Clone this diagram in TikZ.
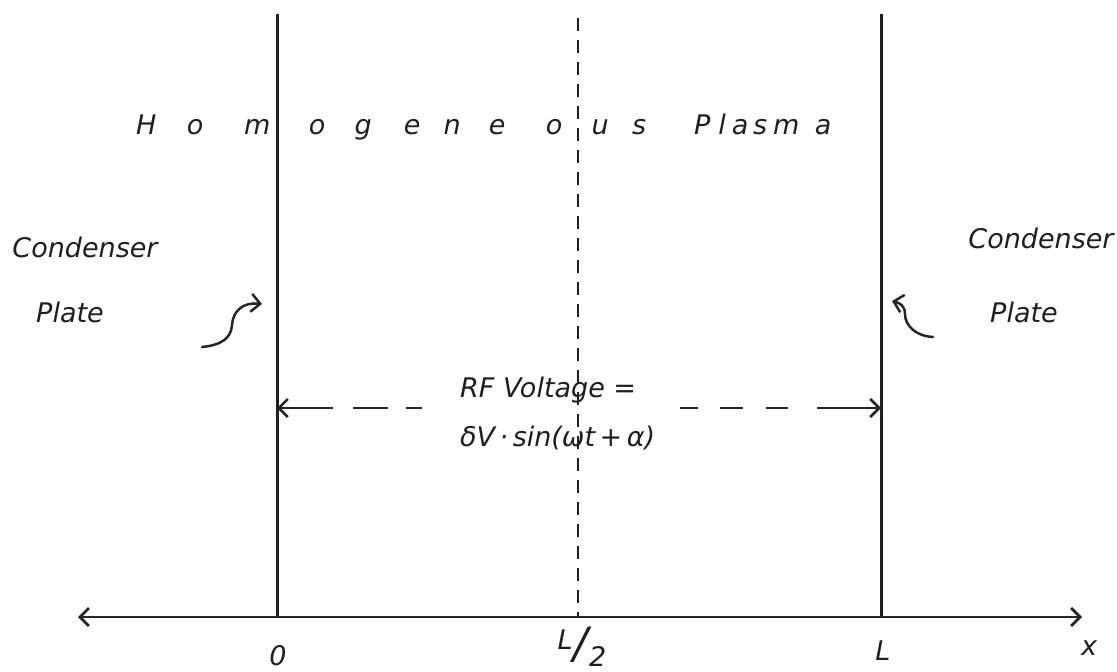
\documentclass[tikz,border=0pt]{standalone}
\usepackage{fontspec}
\setmainfont{DejaVu Sans}
\usetikzlibrary{arrows.meta}
\newcommand\ltr[1]{\makebox[0pt]{#1}}
\begin{document}
\begin{tikzpicture}[x=1pt,y=-1pt,
  every node/.style={font=\fontsize{27}{32}\selectfont\itshape, inner sep=0pt, text=black!88},
  >={Straight Barb[length=9pt,width=18pt]},
  plate/.style={line width=3pt, black!88},
  axisline/.style={line width=2.8pt, black!85},
  centerline/.style={line width=2.8pt, black!88, dash pattern=on 13pt off 9pt},
  rfarrow/.style={line width=2.5pt, black!85},
  squig/.style={line width=2.5pt, black!85, line cap=round}]
\useasboundingbox (0,0) rectangle (1117,672);
% coordinates
\coordinate (lpT) at (277,14);  \coordinate (lpB) at (277,617);
\coordinate (rpT) at (881,14);  \coordinate (rpB) at (881,617);
\coordinate (cT) at (578,18);   \coordinate (cB) at (578,617);
\coordinate (axL) at (78,617);  \coordinate (axR) at (1082,617);
% plates, center line, axis
\draw[plate] (lpT) -- (lpB);
\draw[plate] (rpT) -- (rpB);
\draw[centerline] (cT) -- (cB);
\draw[axisline,<->] (axL) -- (axR);
% title
\node[anchor=base west] (homog) at (146,134)
 {\ltr{H}\hspace{49pt}\ltr{o}\hspace{62pt}\ltr{m}\hspace{60pt}\ltr{o}\hspace{46pt}\ltr{g}\hspace{49pt}\ltr{e}\hspace{40pt}\ltr{n}\hspace{45pt}\ltr{e}\hspace{57pt}\ltr{o}\hspace{46pt}\ltr{u}\hspace{39pt}\ltr{s}\hspace{63pt}\ltr{P}\hspace{20pt}\ltr{l}\hspace{18pt}\ltr{a}\hspace{20pt}\ltr{s}\hspace{26pt}\ltr{m}\hspace{37pt}\ltr{a}};
% condenser labels
\node[anchor=base] (condL) at (85,257) {Condenser};
\node[anchor=base] (plateL) at (70,322) {Plate};
\node[anchor=base] (condR) at (1041,248) {Condenser};
\node[anchor=base] (plateR) at (1024,322) {Plate};
% squiggle arrows
\coordinate (sqL0) at (202,347); \coordinate (sqL1) at (262,304);
\draw[squig,->] (sqL0) .. controls (222,345) and (231,338) .. (232,325)
  .. controls (233,310) and (244,302) .. (sqL1);
\coordinate (sqR0) at (933,337); \coordinate (sqR1) at (892,301);
\draw[squig,->] (sqR0) .. controls (915,336) and (905,325) .. (905,314)
  .. controls (905,306) and (900,303) .. (sqR1);
% RF voltage
\node[anchor=base west] (rf1) at (460,397) {RF Voltage =};
\node[anchor=base west] (rf2) at (460,446) {δV\,·\,sin(ωt\,+\,α)};
\coordinate (lpA) at (277,408); \coordinate (rfL) at (422,408);
\coordinate (rpA) at (881,408); \coordinate (rfR) at (680,408);
\draw[rfarrow,<-,dash pattern=on 53pt off 20pt on 35pt off 18pt on 19pt off 50pt] (lpA) -- (rfL);
\draw[rfarrow,<-,dash pattern=on 61pt off 29pt on 22pt off 23pt on 23pt off 22pt on 20pt off 50pt] (rpA) -- (rfR);
% axis labels
\node[anchor=base] (lab0) at (278,665) {0};
\node[anchor=base] (labL2) at (582,658) {\raisebox{9pt}{L}\hspace{1pt}\scalebox{1.6}{/}\hspace{1pt}\raisebox{-8pt}{2}};
\node[anchor=base] (labL) at (883,660) {L};
\node[anchor=base] (labx) at (1089,655) {x};
\end{tikzpicture}
\end{document}
